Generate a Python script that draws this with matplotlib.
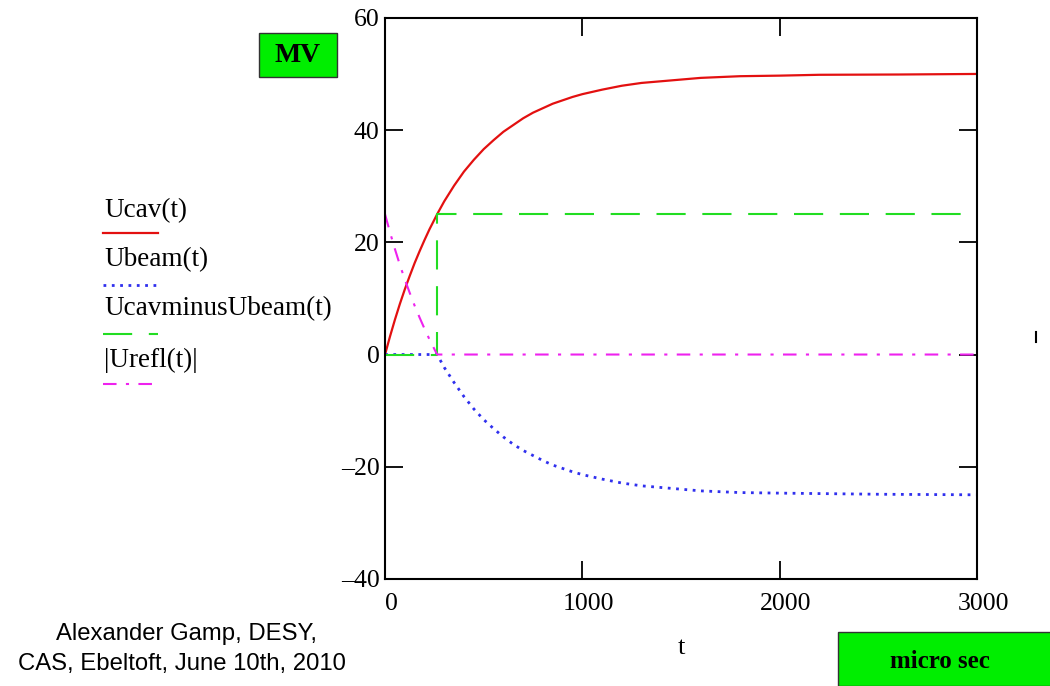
import numpy as np
import matplotlib.pyplot as plt
import matplotlib.transforms as mtransforms
from matplotlib.lines import Line2D
from matplotlib.patches import Rectangle

# values (t in micro sec, voltages in MV)
t_cav = [0, 25, 50, 75, 100, 125, 150, 175, 200, 225, 264, 300, 350, 400,
         450, 500, 550, 600, 650, 700, 750, 800, 850, 900, 950, 1000, 1100,
         1200, 1300, 1400, 1500, 1600, 1800, 2000, 2200, 2600, 3000]
u_cav = [0, 3.2, 6.2, 9.0, 11.6, 14.0, 16.3, 18.4, 20.4, 22.3, 25.0, 27.3,
         30.1, 32.6, 34.7, 36.6, 38.2, 39.7, 40.9, 42.1, 43.1, 43.9, 44.7,
         45.3, 45.9, 46.4, 47.2, 47.9, 48.4, 48.7, 49.0, 49.3, 49.6, 49.7,
         49.85, 49.9, 50.0]

t_beam = [0, 264, 300, 350, 400, 450, 500, 550, 600, 650, 700, 750, 800,
          850, 900, 950, 1000, 1100, 1200, 1300, 1400, 1500, 1600, 1800,
          2000, 2500, 3000]
u_beam = [0, 0, -2.3, -5.0, -7.5, -9.7, -11.6, -13.2, -14.7, -16.0, -17.1,
          -18.0, -18.9, -19.7, -20.3, -20.9, -21.4, -22.2, -22.9, -23.4,
          -23.7, -24.0, -24.3, -24.6, -24.7, -24.9, -25.0]

t_diff = [0, 264, 264, 3000]
u_diff = [0, 0, 25, 25]

t_refl = [0, 25, 50, 75, 100, 125, 150, 175, 200, 225, 264, 3000]
u_refl = [25, 21.8, 18.8, 16.0, 13.4, 11.0, 8.7, 6.6, 4.6, 2.7, 0, 0]

labels = ['Ucav(t)', 'Ubeam(t)', 'UcavminusUbeam(t)', '|Urefl(t)|']

red = '#e31010'
blue = '#3030ee'
green = '#22dd22'
magenta = '#ee22ee'

styles = [
    dict(color=red, lw=1.6, ls='-'),
    dict(color=blue, lw=2.0, ls=(0, (1, 2))),
    dict(color=green, lw=1.5, ls=(0, (14, 8))),
    dict(color=magenta, lw=1.5, ls=(0, (6.5, 4.5, 1.5, 4.5))),
]

serif = 'Liberation Serif'

fig = plt.figure(figsize=(10.5, 6.86), dpi=100)
ax = fig.add_axes([0.3667, 0.156, 0.5638, 0.818])

ax.plot(t_cav, u_cav, **styles[0])
ax.plot(t_beam, u_beam, **styles[1])
ax.plot(t_diff, u_diff, **styles[2])
ax.plot(t_refl, u_refl, **styles[3])

ax.set_xlim(0, 3000)
ax.set_ylim(-40, 60)
ax.set_xticks([0, 1000, 2000, 3000])
ax.set_yticks([-40, -20, 0, 20, 40, 60])
ax.set_yticklabels(['\u201340', '\u201320', '0', '20', '40', '60'])
ax.tick_params(direction='in', length=13, width=1.3, top=True, right=True,
               labelsize=18.5)
ax.tick_params(axis='x', pad=10)
ax.tick_params(axis='y', pad=4)
shift = mtransforms.ScaledTranslation(6 / 100, 0, fig.dpi_scale_trans)
for lab in ax.get_xticklabels():
    lab.set_family(serif)
    lab.set_transform(lab.get_transform() + shift)
for lab in ax.get_yticklabels():
    lab.set_family(serif)
for s in ax.spines.values():
    s.set_linewidth(1.5)

ax.set_xlabel('t', family=serif, fontsize=19, labelpad=16)

# legend, Mathcad style: label above a short line sample
ys_text = [211, 260, 309, 360]
ys_line = [233, 285, 334, 384]
H = 686.0
W = 1050.0
for lab, st, yt, yl in zip(labels, styles, ys_text, ys_line):
    fig.text(104 / W, 1 - yt / H, lab, family=serif, fontsize=19.5,
             va='center', ha='left')
    fig.add_artist(Line2D([103 / W, 158 / W], [1 - yl / H, 1 - yl / H],
                          transform=fig.transFigure, **st))

# unit boxes
fig.add_artist(Rectangle((259 / W, 1 - 77 / H), 78 / W, 44 / H,
                         transform=fig.transFigure, facecolor='#00ee00',
                         edgecolor='#333333', lw=1))
fig.text(298 / W, 1 - 56 / H, 'MV', family=serif, fontsize=20,
         fontweight='bold', ha='center', va='center')
fig.add_artist(Rectangle((838 / W, 0), 220 / W, 54 / H,
                         transform=fig.transFigure, facecolor='#00ee00',
                         edgecolor='#333333', lw=1))
fig.text(940 / W, 1 - 662 / H, 'micro sec', family=serif,
         fontsize=18, fontweight='bold', ha='center', va='center')

# author note
fig.text(186 / W, 1 - 634 / H, 'Alexander Gamp, DESY,',
         family='Liberation Sans', fontsize=17.2, ha='center', va='center')
fig.text(182 / W, 1 - 664 / H, 'CAS, Ebeltoft, June 10th, 2010',
         family='Liberation Sans', fontsize=17.2, ha='center', va='center')

# stray mark at the right
fig.add_artist(Line2D([1036 / W, 1036 / W], [1 - 332 / H, 1 - 342 / H],
                      transform=fig.transFigure, color='black', lw=1.5))

fig.savefig('out.png', dpi=100)
